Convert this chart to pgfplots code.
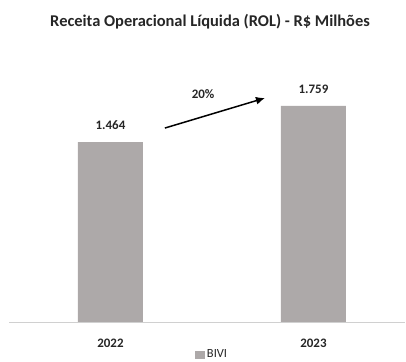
\documentclass[border=0pt]{standalone}
\usepackage{pgfplots}
\pgfplotsset{compat=1.18}
\usetikzlibrary{arrows.meta}
\usepackage{fontspec}
\setmainfont{Carlito}
\definecolor{barcol}{HTML}{ADA9A9}
\definecolor{txt}{HTML}{262626}
\definecolor{axline}{HTML}{D0D0D0}

\begin{document}
\begin{tikzpicture}[x=1bp,y=1bp]
  \useasboundingbox (0,0) rectangle (406,362);
  \node[font=\bfseries\fontsize{16.5}{18}\selectfont, text=txt] at (210,340) {Receita Operacional Líquida (ROL) - R\$ Milhões};
  \begin{axis}[
    at={(9bp,40bp)}, anchor=south west,
    scale only axis,
    width=395.8bp, height=270.4bp,
    xmin=-0.5, xmax=1.45,
    ymin=0, ymax=2200,
    axis y line=none,
    axis x line*=bottom,
    x axis line style={axline, line width=1pt, -},
    xtick={0,1}, xticklabels={2022,2023},
    xtick style={draw=none},
    xticklabel style={font=\bfseries\fontsize{13}{15}\selectfont, text=txt, anchor=center, yshift=-17bp},
    ybar, bar width=65bp,
    nodes near coords,
    point meta=explicit symbolic,
    every node near coord/.style={font=\bfseries\fontsize{13}{15}\selectfont, text=txt, anchor=south, yshift=9bp},
    legend style={at={(0.513,-0.121)}, anchor=center, draw=none, fill=none,
      font=\fontsize{12.5}{14}\selectfont, text=txt, inner sep=0pt},
    legend image code/.code={\fill[barcol] (0bp,-4bp) rectangle (10bp,4bp);},
    clip=false,
  ]
    \addplot[fill=barcol, draw=none] table[meta=label] {
      x y label
      0 1464 1.464
      1 1759 1.759
    };
    \addlegendentry{BIVI}
    \draw[-{Latex[length=9bp,width=8bp]}, line width=1.5bp, black] (axis cs:0.268,1578) -- (axis cs:0.761,1822);
    \node[font=\bfseries\fontsize{13}{15}\selectfont, text=txt] at (axis cs:0.456,1855) {20\%};
  \end{axis}
\end{tikzpicture}
\end{document}
